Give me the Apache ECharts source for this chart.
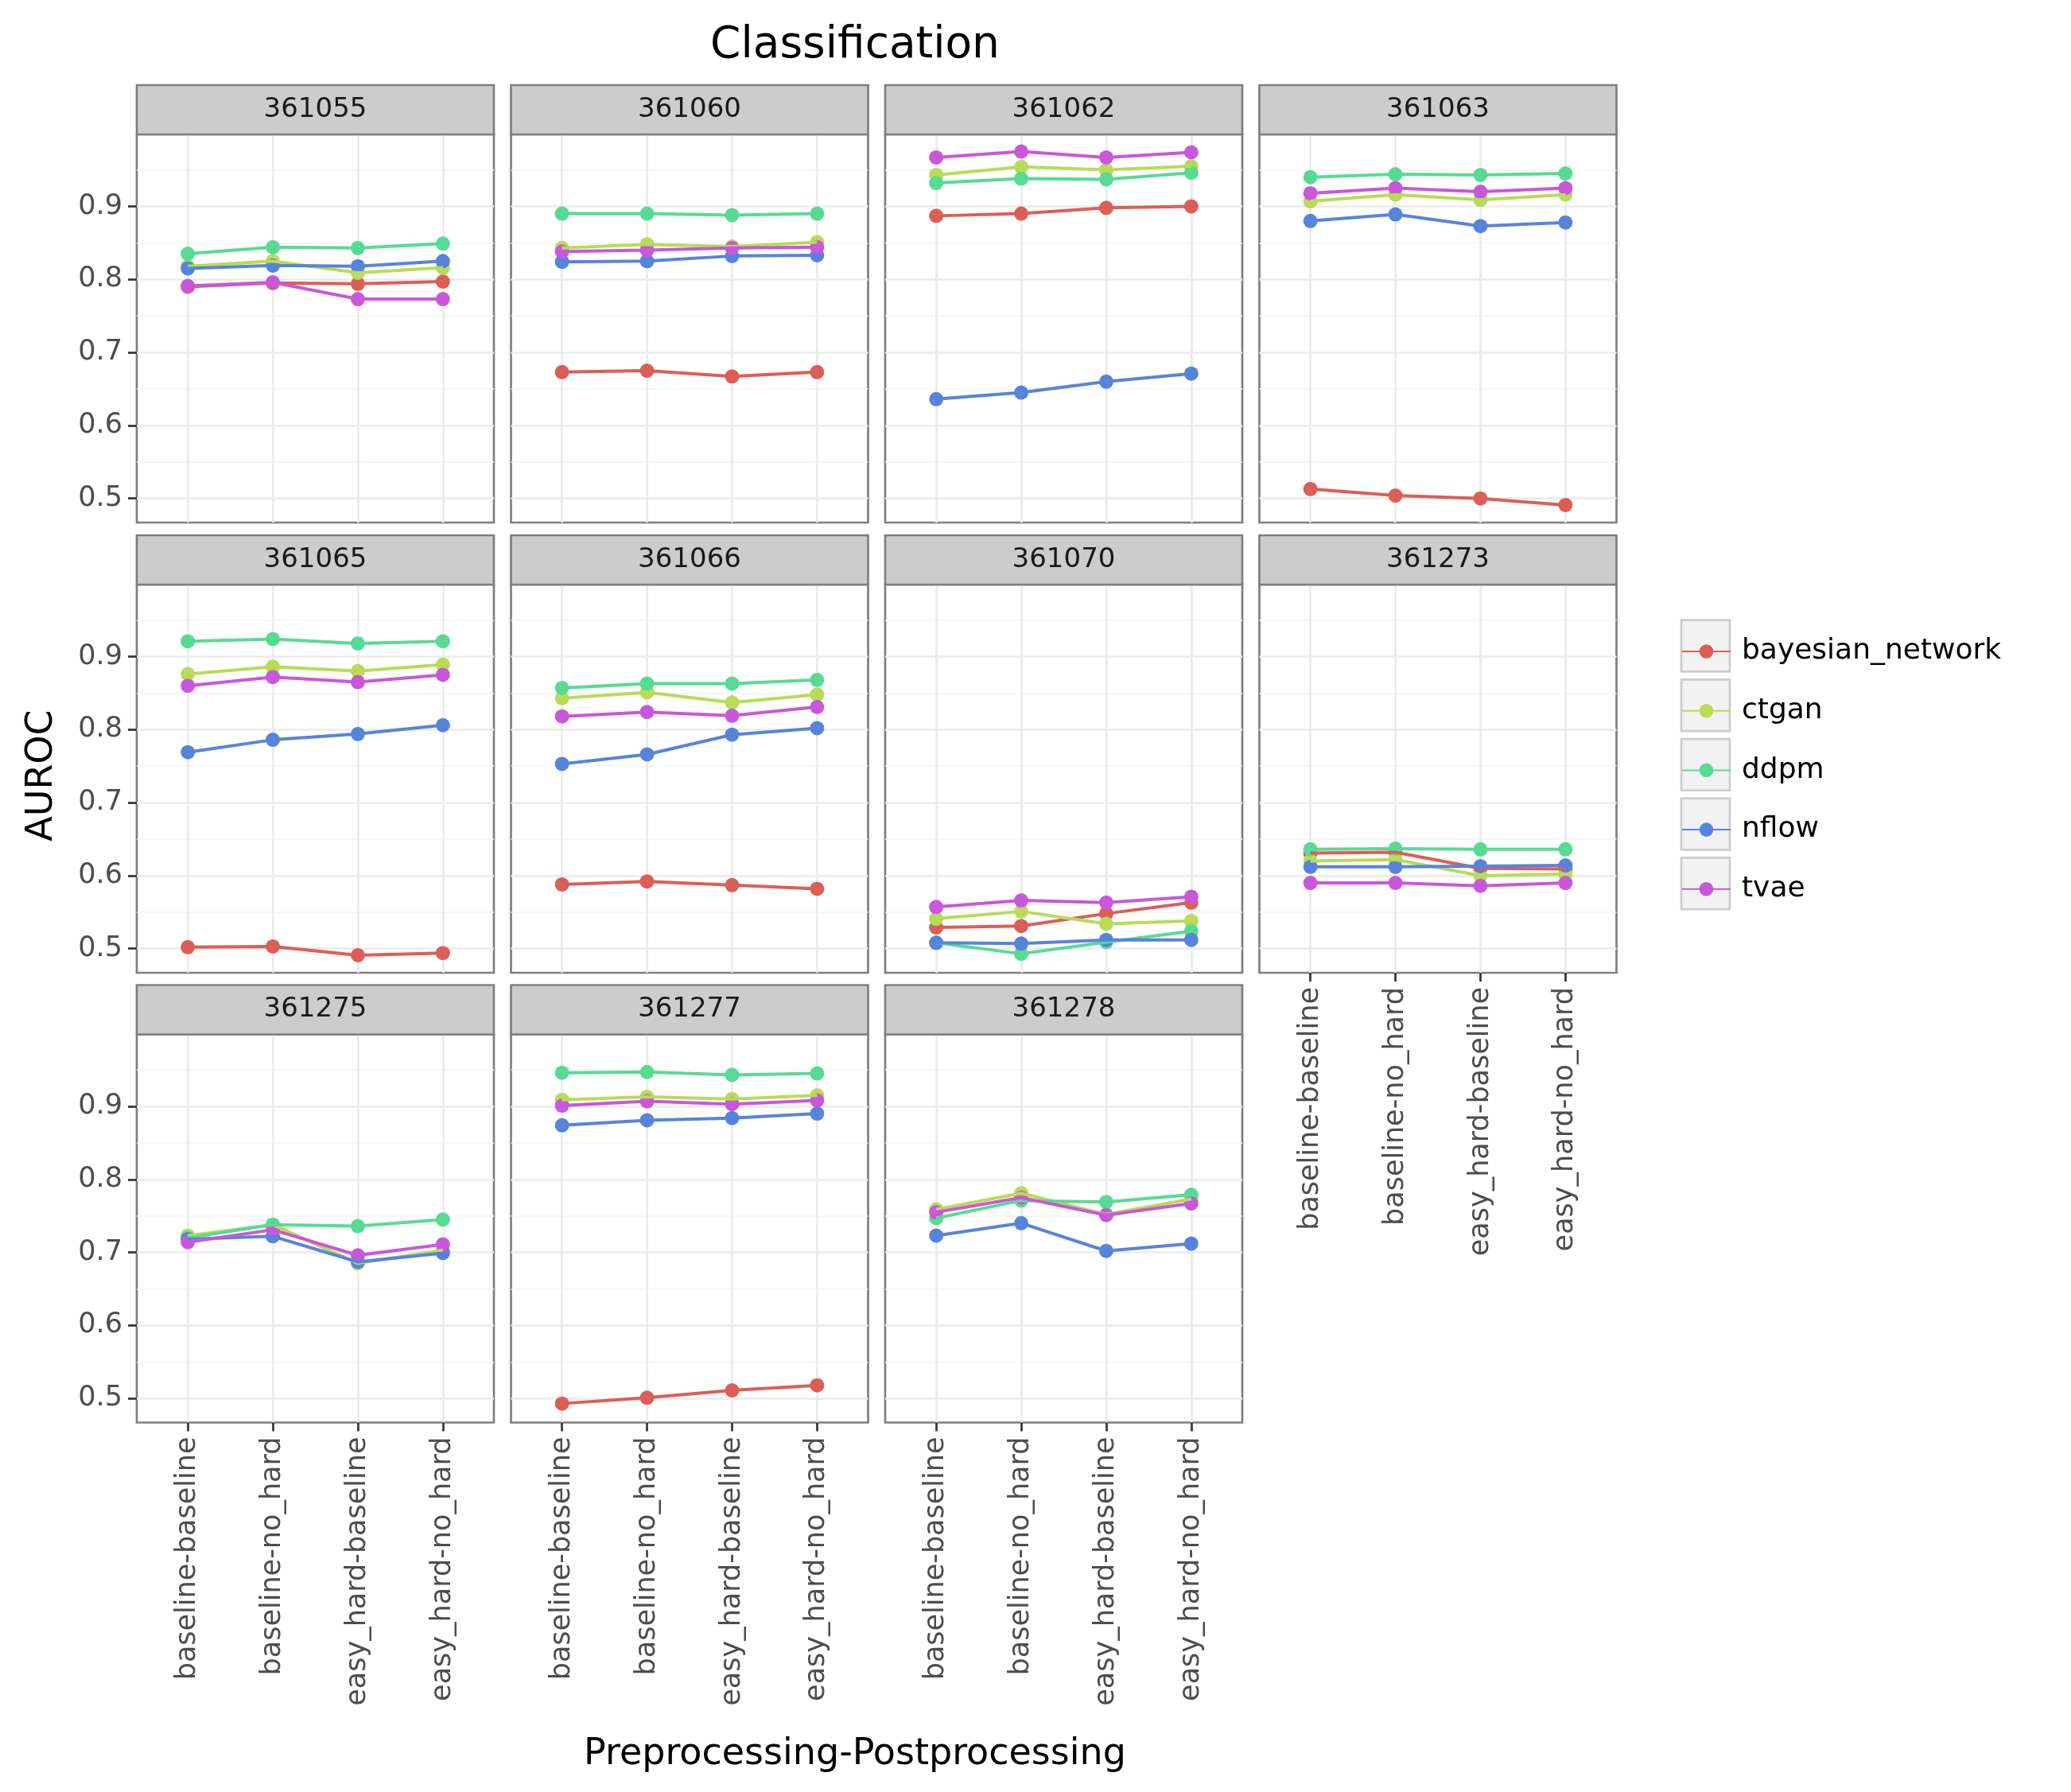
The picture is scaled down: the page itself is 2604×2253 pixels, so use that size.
<!DOCTYPE html>
<html><head><meta charset="utf-8">
<script src="https://cdn.jsdelivr.net/npm/echarts@6/dist/echarts.min.js"></script>
<style>html,body{margin:0;padding:0;background:#fff}#c{width:2604px;height:2253px}</style>
</head><body><div id="c"></div>
<script>
// ---------- data ----------
const categories = ['baseline-baseline', 'baseline-no_hard', 'easy_hard-baseline', 'easy_hard-no_hard'];
const methods = ['bayesian_network', 'ctgan', 'ddpm', 'nflow', 'tvae'];
const datasets = ['361055', '361060', '361062', '361063', '361065', '361066', '361070', '361273', '361275', '361277', '361278'];
const yTicks = [0.5, 0.6, 0.7, 0.8, 0.9];
const yMinorTicks = [0.55, 0.65, 0.75, 0.85, 0.95];
const xTicks = [1, 2, 3, 4];

// rows: bayesian_network, ctgan, ddpm, nflow, tvae
const auroc361055 = [[0.790,0.795,0.794,0.797],[0.818,0.825,0.809,0.816],[0.835,0.844,0.843,0.849],[0.815,0.819,0.818,0.825],[0.791,0.796,0.773,0.773]];
const auroc361060 = [[0.673,0.675,0.667,0.673],[0.843,0.848,0.845,0.851],[0.890,0.890,0.888,0.890],[0.824,0.825,0.832,0.833],[0.838,0.840,0.843,0.844]];
const auroc361062 = [[0.887,0.890,0.898,0.900],[0.943,0.954,0.950,0.955],[0.932,0.938,0.937,0.946],[0.636,0.645,0.660,0.671],[0.967,0.975,0.967,0.974]];
const auroc361063 = [[0.513,0.504,0.500,0.491],[0.907,0.916,0.909,0.916],[0.940,0.944,0.943,0.945],[0.880,0.889,0.873,0.878],[0.918,0.925,0.920,0.925]];
const auroc361065 = [[0.502,0.503,0.491,0.494],[0.876,0.886,0.880,0.889],[0.921,0.924,0.918,0.921],[0.769,0.786,0.794,0.806],[0.860,0.872,0.865,0.875]];
const auroc361066 = [[0.588,0.592,0.587,0.582],[0.843,0.851,0.837,0.848],[0.857,0.863,0.863,0.868],[0.753,0.766,0.793,0.802],[0.818,0.824,0.819,0.831]];
const auroc361070 = [[0.529,0.531,0.548,0.563],[0.541,0.551,0.534,0.538],[0.508,0.493,0.509,0.524],[0.508,0.507,0.512,0.512],[0.557,0.566,0.563,0.571]];
const auroc361273 = [[0.631,0.632,0.610,0.609],[0.620,0.622,0.600,0.602],[0.636,0.637,0.636,0.636],[0.612,0.612,0.613,0.614],[0.590,0.590,0.586,0.590]];
const auroc361275 = [null,[0.723,0.738,0.685,0.703],[0.720,0.738,0.736,0.745],[0.718,0.722,0.687,0.699],[0.714,0.731,0.696,0.711]];
const auroc361277 = [[0.493,0.501,0.511,0.518],[0.909,0.913,0.910,0.915],[0.946,0.947,0.943,0.945],[0.874,0.881,0.884,0.890],[0.901,0.907,0.903,0.908]];
const auroc361278 = [null,[0.759,0.781,0.752,0.773],[0.747,0.771,0.769,0.779],[0.723,0.740,0.702,0.712],[0.755,0.775,0.751,0.767]];

const panelValues = [auroc361055, auroc361060, auroc361062, auroc361063, auroc361065, auroc361066, auroc361070, auroc361273, auroc361275, auroc361277, auroc361278];

// ---------- style / layout ----------
const colors = ['#db5f57', '#b9db57', '#57db94', '#5784db', '#c957db'];
const FONT = 'DejaVu Sans';
const colLeft = [172, 642.5, 1113, 1583.5];
const rowTop = [169, 735, 1300.5];
const PW = 449, PH = 488, SH = 62;
const Y_MIN = 0.467, Y_MAX = 0.9985;
const BORDER = '#7F7F7F';
const LW = 2.7;
const AXIS_FS = 35;

const grids = [], xAxes = [], yAxes = [], lineSeries = [], pointSeries = [], graphics = [];

datasets.forEach((ds, i) => {
  const col = i % 4, row = Math.floor(i / 4);
  const isLeft = col === 0;
  const isBottom = row === 2 || (row === 1 && col === 3);
  grids.push({
    left: colLeft[col], top: rowTop[row], width: PW, height: PH,
    show: true, backgroundColor: '#FFFFFF', borderColor: BORDER, borderWidth: LW,
    containLabel: false, outerBoundsMode: 'none'
  });
  xAxes.push({
    type: 'value', gridIndex: i, min: 0.4, max: 4.6,
    axisLine: { show: false },
    axisTick: { show: isBottom, customValues: xTicks, length: 11, lineStyle: { color: '#333333', width: LW } },
    axisLabel: { show: isBottom, customValues: xTicks, rotate: 90, margin: 18, fontSize: AXIS_FS, color: '#4D4D4D', fontFamily: FONT,
      formatter: v => categories[Math.round(v) - 1] },
    splitLine: { show: true, lineStyle: { color: '#EBEBEB', width: LW } }
  });
  yAxes.push({
    type: 'value', gridIndex: i, min: Y_MIN, max: Y_MAX, position: 'left',
    axisLine: { show: false },
    axisTick: { show: isLeft, customValues: yTicks, length: 11, lineStyle: { color: '#333333', width: LW } },
    axisLabel: { show: isLeft, customValues: yTicks, margin: 18, fontSize: AXIS_FS, color: '#4D4D4D', fontFamily: FONT,
      formatter: v => v.toFixed(1) },
    splitLine: { show: true, lineStyle: { color: '#EBEBEB', width: LW } }
  });
  yAxes.push({
    type: 'value', gridIndex: i, min: Y_MIN, max: Y_MAX, position: 'right',
    axisLine: { show: false },
    axisTick: { show: false, customValues: yMinorTicks },
    axisLabel: { show: false, customValues: yMinorTicks },
    splitLine: { show: true, lineStyle: { color: '#F4F4F4', width: 1.5 } }
  });
  // strip
  graphics.push({
    type: 'rect', silent: true, z: 5,
    shape: { x: colLeft[col], y: rowTop[row] - SH, width: PW, height: SH },
    style: { fill: '#CCCCCC', stroke: BORDER, lineWidth: LW }
  });
  graphics.push({
    type: 'text', silent: true, z: 6,
    x: colLeft[col] + PW / 2, y: rowTop[row] - SH / 2,
    style: { text: ds, fill: '#1A1A1A', font: '34px "DejaVu Sans"', textAlign: 'center', textVerticalAlign: 'middle' }
  });
  panelValues[i].forEach((vals, m) => {
    if (!vals) return;
    const data = xTicks.map((x, k) => [x, vals[k]]);
    lineSeries.push({
      type: 'line', name: methods[m], xAxisIndex: i, yAxisIndex: 2 * i, data,
      showSymbol: false, symbol: 'circle', symbolSize: 18,
      lineStyle: { width: 4, color: colors[m] }, itemStyle: { color: colors[m] },
      z: 3, silent: true, animation: false
    });
    pointSeries.push({
      type: 'scatter', name: methods[m], xAxisIndex: i, yAxisIndex: 2 * i, data,
      symbol: 'circle', symbolSize: 18, itemStyle: { color: colors[m], opacity: 1 },
      z: 2, silent: true, animation: false
    });
  });
});

// legend
const legendKeyX = 2114, legendKeyW = 61, legendKeyH = 64.7, legendTop0 = 812, legendStep = 74.7;
const legends = methods.map((m, k) => {
  const cy = legendTop0 + k * legendStep;
  graphics.push({
    type: 'rect', silent: true, z: 0,
    shape: { x: legendKeyX, y: cy - legendKeyH / 2, width: legendKeyW, height: legendKeyH },
    style: { fill: '#F2F2F2', stroke: '#CCCCCC', lineWidth: LW }
  });
  return {
    data: [m], left: legendKeyX, top: cy - 11, orient: 'vertical', padding: 0,
    itemWidth: legendKeyW, itemHeight: 22, selectedMode: false, z: 10,
    textStyle: { fontSize: 36, color: '#000000', fontFamily: FONT, lineHeight: 22, padding: [0, 0, 0, 9] }
  };
});

// titles
graphics.push({ type: 'text', silent: true, x: 1075, y: 58,
  style: { text: 'Classification', fill: '#000000', font: '55px "DejaVu Sans"', textAlign: 'center', textVerticalAlign: 'middle' } });
graphics.push({ type: 'text', silent: true, x: 1075, y: 2206,
  style: { text: 'Preprocessing-Postprocessing', fill: '#000000', font: '46px "DejaVu Sans"', textAlign: 'center', textVerticalAlign: 'middle' } });
graphics.push({ type: 'text', silent: true, x: 53, y: 975, rotation: Math.PI / 2,
  style: { text: 'AUROC', fill: '#000000', font: '46px "DejaVu Sans"', textAlign: 'center', textVerticalAlign: 'middle' } });

const chart = echarts.init(document.getElementById('c'), null, { renderer: 'canvas' });
chart.setOption({
  animation: false,
  backgroundColor: '#FFFFFF',
  textStyle: { fontFamily: FONT },
  grid: grids, xAxis: xAxes, yAxis: yAxes,
  legend: legends,
  series: lineSeries.concat(pointSeries),
  graphic: { elements: graphics }
});
</script></body></html>
